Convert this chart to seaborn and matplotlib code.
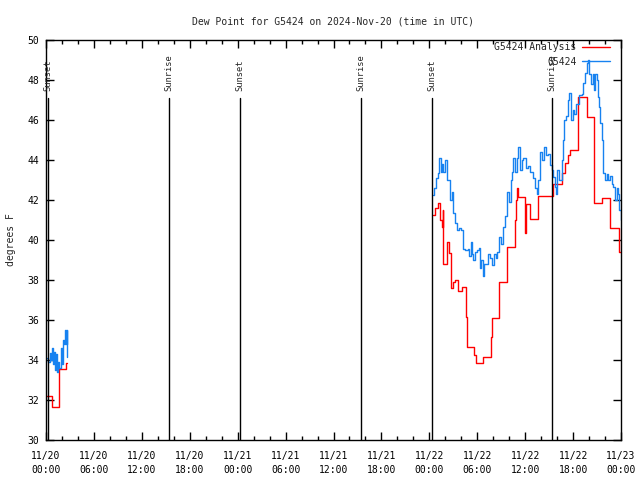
import numpy as np
import pandas as pd
import matplotlib
matplotlib.use('Agg')
import matplotlib.pyplot as plt
import matplotlib.dates as mdates
import seaborn as sns

# hours after 2024-11-20 00:00 UTC
analysis_hours_a = [0.0, 0.71, 1.67, 2.5, 2.67]
analysis_vals_a = [32.2, 31.63, 33.53, 33.87, 33.87]
analysis_hours_b = [48.42, 48.71, 49.12, 49.34, 49.55, 49.67, 49.75, 50.25, 50.5, 50.71,
                    51.0, 51.22, 51.59, 52.05, 52.59, 52.76, 53.63, 53.84, 54.68, 55.69,
                    55.81, 56.69, 57.76, 58.73, 58.85, 58.94, 59.14, 59.36, 59.98, 60.11,
                    60.61, 61.65, 63.52, 64.57, 64.98, 65.4, 65.61, 66.65, 67.7, 68.62,
                    69.58, 70.62, 71.79, 72.0]
analysis_vals_b = [41.25, 41.58, 41.83, 41.0, 40.67, 41.5, 38.8, 39.92, 39.33, 37.58,
                   37.92, 38.0, 37.47, 37.67, 36.17, 34.63, 34.25, 33.83, 34.17, 35.17,
                   36.08, 37.88, 39.63, 41.0, 42.0, 42.58, 42.13, 42.17, 40.33, 41.8,
                   41.05, 42.22, 42.8, 43.33, 43.83, 44.25, 44.5, 47.13, 46.13, 41.83,
                   42.08, 40.58, 39.42, 39.42]

obs_hours_a = [0.17, 0.29, 0.5, 0.63, 0.75, 0.92, 1.04, 1.17, 1.25, 1.38,
               1.54, 1.67, 1.84, 1.96, 2.09, 2.21, 2.34, 2.46, 2.59, 2.67]
obs_vals_a = [34.08, 33.9, 34.33, 34.0, 34.58, 33.8, 34.4, 33.5, 34.3, 33.4,
              33.9, 33.6, 34.6, 33.8, 35.0, 34.8, 35.5, 34.8, 35.5, 34.17]
obs_hours_b = [48.42, 48.59, 48.84, 49.09, 49.25, 49.42, 49.59, 49.75, 49.92, 50.17,
               50.42, 50.59, 50.8, 50.96, 51.17, 51.42, 51.76, 52.0, 52.17, 52.51,
               52.84, 53.01, 53.18, 53.34, 53.51, 53.68, 53.93, 54.18, 54.35, 54.51,
               54.68, 54.85, 55.1, 55.35, 55.6, 55.85, 56.1, 56.35, 56.51, 56.76,
               57.01, 57.26, 57.51, 57.76, 57.93, 58.19, 58.35, 58.52, 58.73, 58.94,
               59.14, 59.35, 59.57, 59.77, 60.11, 60.4, 60.61, 60.94, 61.23, 61.44,
               61.65, 61.86, 62.07, 62.36, 62.61, 62.9, 63.11, 63.32, 63.52, 63.74,
               63.86, 64.02, 64.27, 64.57, 64.7, 64.9, 65.11, 65.32, 65.53, 65.74,
               65.95, 66.15, 66.37, 66.58, 66.78, 67.08, 67.28, 67.49, 67.7, 67.91,
               68.03, 68.21, 68.46, 68.62, 68.79, 68.96, 69.16, 69.29, 69.37, 69.58,
               69.71, 70.0, 70.21, 70.41, 70.62, 70.83, 71.04, 71.24, 71.46, 71.66,
               71.79, 71.97]
obs_vals_b = [42.25, 42.6, 43.1, 43.35, 44.1, 43.4, 43.8, 43.4, 44.0, 43.0,
              43.0, 42.0, 42.4, 41.35, 40.85, 40.5, 40.6, 40.5, 39.55, 39.5,
              39.55, 39.2, 39.9, 39.3, 39.0, 39.4, 39.5, 39.6, 38.6, 39.0,
              38.2, 38.8, 38.8, 39.3, 39.1, 38.75, 39.3, 39.1, 39.4, 40.17,
              39.8, 40.67, 41.2, 42.4, 41.9, 43.0, 43.4, 44.1, 43.4, 44.1,
              44.67, 43.5, 44.0, 44.1, 43.6, 43.7, 43.4, 43.1, 42.6, 42.3,
              43.0, 44.4, 44.0, 44.67, 44.25, 44.3, 43.75, 43.5, 43.17, 42.67,
              42.3, 43.5, 43.0, 44.0, 45.0, 46.0, 46.2, 47.0, 47.33, 46.0,
              46.5, 46.3, 46.8, 46.8, 47.25, 47.3, 47.83, 48.33, 48.83, 49.0,
              48.3, 47.8, 48.3, 47.5, 48.3, 48.0, 47.17, 46.67, 45.83, 45.0,
              43.33, 43.0, 43.3, 43.0, 43.2, 42.8, 42.67, 42.0, 42.6, 42.3,
              41.5, 41.0]

sun_hours = [0.25, 15.4, 24.3, 39.4, 48.3, 63.4]
sun_labels = ['Sunset', 'Sunrise', 'Sunset', 'Sunrise', 'Sunset', 'Sunrise']

start = pd.Timestamp('2024-11-20 00:00')


def to_time(hours):
    return start + pd.to_timedelta(np.asarray(hours), unit='h')


parts = [
    ('G5424 Analysis', 0, analysis_hours_a, analysis_vals_a),
    ('G5424 Analysis', 1, analysis_hours_b, analysis_vals_b),
    ('G5424', 0, obs_hours_a, obs_vals_a),
    ('G5424', 1, obs_hours_b, obs_vals_b),
]
frames = []
for name, seg, hrs, vals in parts:
    frames.append(pd.DataFrame({'time': to_time(hrs), 'value': vals,
                                'series': name, 'seg': seg}))
df = pd.concat(frames, ignore_index=True)

sns.set_style('ticks')
plt.rcParams['font.family'] = ['DejaVu Sans Mono']
plt.rcParams['font.size'] = 7

fig = plt.figure(figsize=(6.4, 4.8), dpi=100)
ax = fig.add_axes([46 / 640, 40 / 480, 575 / 640, 400 / 480])

sns.lineplot(data=df, x='time', y='value', hue='series', units='seg',
             estimator=None, drawstyle='steps-post', linewidth=1.0,
             palette={'G5424 Analysis': '#ff0000', 'G5424': '#1782f0'},
             sort=True, ax=ax)

for h, lab in zip(sun_hours, sun_labels):
    t = to_time([h])[0]
    ax.plot([t, t], [30, 47.1], color='black', linewidth=1.0)
    ax.text(t, 47.45, lab, rotation=90, ha='center', va='bottom', fontsize=6.3)

ax.set_xlim(to_time([0])[0], to_time([72])[0])
ax.set_ylim(30, 50)
ax.set_yticks(np.arange(30, 51, 2))
ax.xaxis.set_major_locator(mdates.HourLocator(byhour=range(0, 24, 6)))
ax.xaxis.set_minor_locator(mdates.HourLocator(byhour=range(0, 24, 2)))
ax.xaxis.set_major_formatter(mdates.DateFormatter('%m/%d\n%H:%M'))
ax.tick_params(which='both', direction='in', top=True, right=True, width=1.0,
               labelsize=7, colors='black')
ax.tick_params(which='major', length=6)
ax.tick_params(axis='x', which='major', pad=8)
ax.tick_params(axis='y', which='major', pad=5)
ax.tick_params(which='minor', length=3)
for lbl in ax.get_xticklabels():
    lbl.set_linespacing(1.5)
for s in ax.spines.values():
    s.set_linewidth(1.0)
    s.set_color('black')

ax.set_xlabel('')
ax.set_ylabel('degrees F', fontsize=7, labelpad=8)
ax.set_title('Dew Point for G5424 on 2024-Nov-20 (time in UTC)', fontsize=7, pad=11)

ax.legend(loc='upper right', bbox_to_anchor=(1 - 7.6 / 575, 1 + 1.5 / 400),
          frameon=False, markerfirst=False, fontsize=7, handlelength=2.8,
          handletextpad=0.6, borderaxespad=0, labelspacing=0.45, title=None)

fig.savefig('out.png', dpi=100)
